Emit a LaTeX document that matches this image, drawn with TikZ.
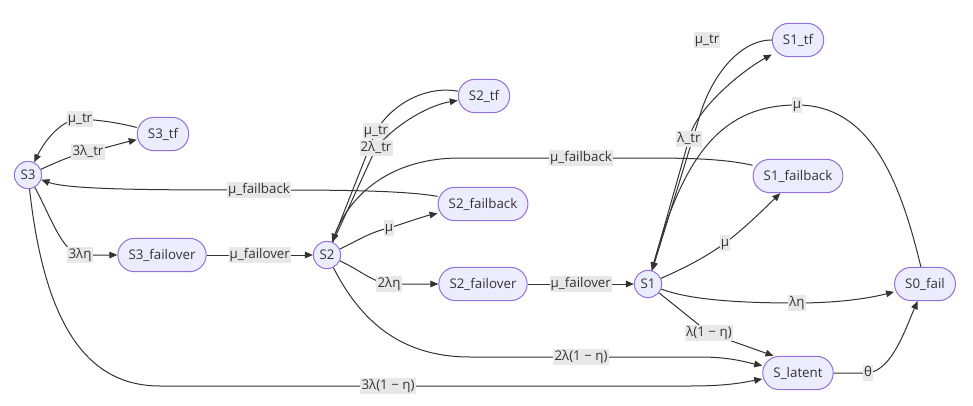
\documentclass[tikz,border=0pt]{standalone}
\usepackage{fontspec}
\setmainfont{Open Sans}
\usetikzlibrary{arrows.meta}
\definecolor{nodefill}{RGB}{236,236,255}
\definecolor{nodeline}{RGB}{147,112,219}
\definecolor{inkline}{RGB}{51,51,51}
\definecolor{lblfill}{RGB}{232,232,232}

\begin{document}
\begin{tikzpicture}[x=0.75pt,y=0.75pt,yscale=-1,xscale=1,
  circ/.style={circle,draw=nodeline,fill=nodefill,text=inkline,line width=0.75pt,minimum size=20.5pt,inner sep=0pt,font=\fontsize{10}{12}\selectfont},
  stad/.style={rectangle,rounded corners=12.5pt,draw=nodeline,fill=nodefill,text=inkline,line width=0.75pt,minimum height=25pt,inner xsep=8pt,font=\fontsize{10}{12}\selectfont},
  conn/.style={draw=inkline,line width=0.75pt,-{Triangle[length=6pt,width=5pt]}},
  lbl/.style={fill=lblfill,text=inkline,inner xsep=0.8pt,inner ysep=0.8pt,text height=7.4pt,text depth=2.4pt,font=\fontsize{10}{12}\selectfont}]
\useasboundingbox (0,0) rectangle (973,406);

%States
\node[circ] (S3) at (28,175) {S3};
\node[stad] (S3tf) at (163,134) {S3\_tf};
\node[stad] (S3fo) at (162,255) {S3\_failover};
\node[circ] (S2) at (327,255) {S2};
\node[stad] (S2tf) at (484,96) {S2\_tf};
\node[stad] (S2fb) at (483,204) {S2\_failback};
\node[stad] (S2fo) at (483,284) {S2\_failover};
\node[circ] (S1) at (648,284) {S1};
\node[stad] (S1tf) at (798,40) {S1\_tf};
\node[stad] (S1fb) at (798,176) {S1\_failback};
\node[stad] (S0f) at (925,284) {S0\_fail};
\node[stad] (SL) at (798,373) {S\_latent};

%Curve Lines S3
\draw[conn] (S3tf) .. controls (115,122) and (98,120) .. (80,119) node[lbl] (l1) {μ\_tr} .. controls (62,119) and (45,140) .. (S3);
\draw[conn] (S3) .. controls (55,163) and (72,155) .. (88,152) node[lbl] (l2) {3λ\_tr} .. controls (105,148) and (122,143) .. (S3tf);
\draw[conn] (S3) .. controls (50,215) and (62,252) .. (80,255) node[lbl] (l3) {3λη} -- (S3fo);
\draw[conn] (S3) .. controls (45,330) and (90,386) .. (160,386) -- (388,386) node[lbl] (l4) {3λ(1 − η)} -- (690,386) .. controls (730,386) and (745,382) .. (SL);
%Straight Lines
\draw[conn] (S3fo) -- node[lbl] (l5) {μ\_failover} (S2);
\draw[conn] (S2fo) -- node[lbl] (l6) {μ\_failover} (S1);
%Curve Lines S2
\draw[conn] (S2fb) .. controls (400,190) and (330,190) .. (259,190) node[lbl] (l7) {μ\_failback} .. controls (160,190) and (70,190) .. (S3);
\draw[conn] (S2tf) .. controls (430,86) and (395,100) .. (376,131) node[lbl] (l8) {μ\_tr} -- (S2);
\draw[conn] (S2) -- (376,148) node[lbl] (l9) {2λ\_tr} .. controls (392,128) and (425,106) .. (S2tf);
\draw[conn] (S2) .. controls (355,242) and (370,232) .. (389,228) node[lbl] (l10) {μ} .. controls (405,223) and (425,216) .. (S2fb);
\draw[conn] (S2) .. controls (360,270) and (372,282) .. (389,284) node[lbl] (l11) {2λη} -- (S2fo);
\draw[conn] (S2) .. controls (360,320) and (400,357) .. (470,357) -- (581,357) node[lbl] (l12) {2λ(1 − η)} -- (700,357) .. controls (730,357) and (745,362) .. (SL);
%Curve Lines S1
\draw[conn] (S1fb) .. controls (730,160) and (700,158) .. (650,158) -- (581,158) node[lbl] (l13) {μ\_failback} -- (460,158) .. controls (390,158) and (350,195) .. (S2);
\draw[conn] (S1tf) .. controls (740,40) and (712,75) .. (700,115) -- (S1);
\node[lbl] (l14) at (707,40) {μ\_tr};
\draw[conn] (S0f) .. controls (900,180) and (870,105) .. (797,105) node[lbl] (l15) {μ} .. controls (725,105) and (685,150) .. (S1);
\draw[conn] (S1) -- (689,139) node[lbl] (l16) {λ\_tr} .. controls (695,110) and (740,72) .. (S1tf);
\draw[conn] (S1) .. controls (680,270) and (705,258) .. (725,243) node[lbl] (l17) {μ} .. controls (745,228) and (765,208) .. (S1fb);
\draw[conn] (S1) .. controls (690,300) and (740,303) .. (797,303) node[lbl] (l18) {λη} .. controls (840,303) and (870,298) .. (S0f);
\draw[conn] (S1) -- (709,333) node[lbl] (l19) {λ(1 − η)} -- (SL.145);
\draw[conn] (SL) -- (868,373) node[lbl] (l20) {θ} .. controls (892,370) and (905,330) .. (S0f);

\end{tikzpicture}
\end{document}
